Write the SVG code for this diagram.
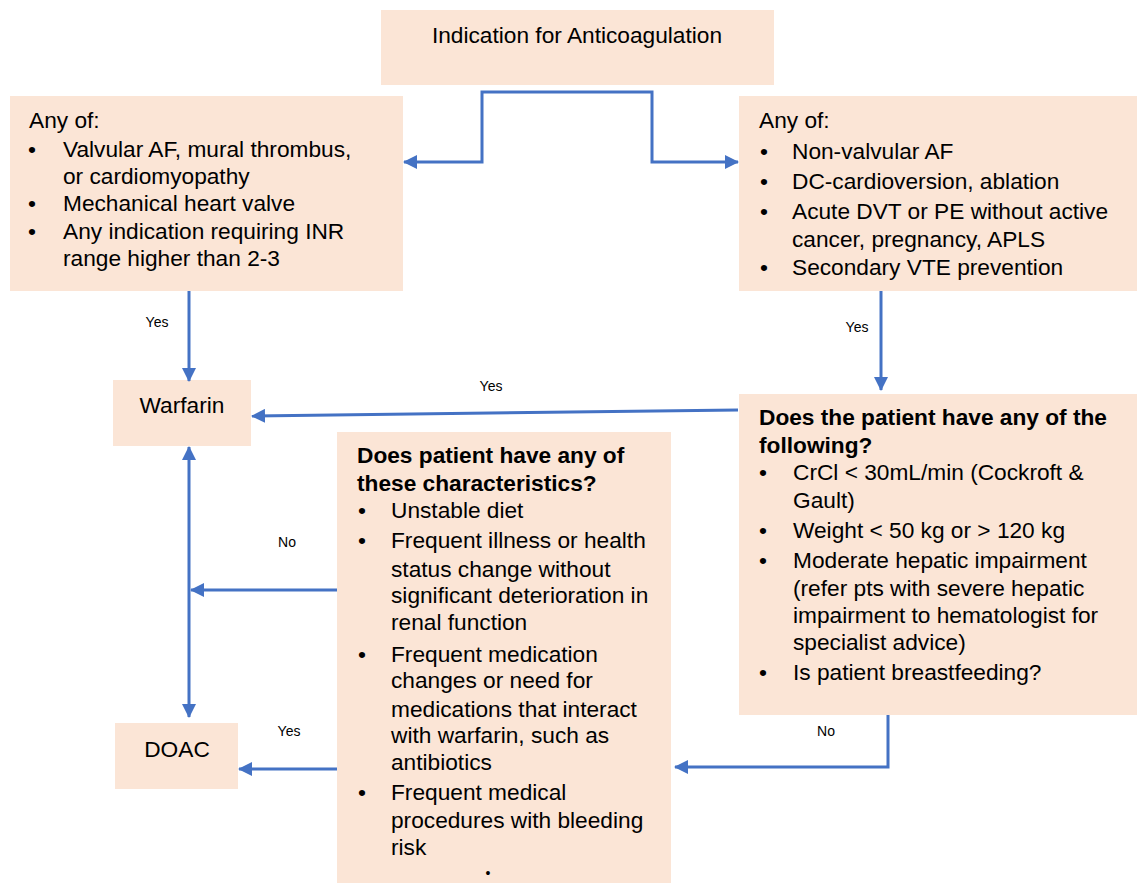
<svg xmlns="http://www.w3.org/2000/svg" width="1137" height="883" viewBox="0 0 1137 883">
<defs>
<style>
.box{fill:#FBE5D6;}
.t{font-family:"Liberation Sans",Arial,sans-serif;font-size:22.7px;fill:#000;}
.b{font-weight:bold;}
.lbl{font-family:"Liberation Sans",Arial,sans-serif;font-size:14px;fill:#000;}
.c{fill:none;stroke:#4472C4;stroke-width:3;}
</style>
<marker id="ah" markerUnits="userSpaceOnUse" markerWidth="14" markerHeight="14" viewBox="0 0 14 14" refX="13" refY="7" orient="auto-start-reverse">
<path d="M0,0 L14,7 L0,14 Z" fill="#4472C4"/>
</marker>
</defs>
<rect width="1137" height="883" fill="#fff"/>

<g id="n-top">
<rect class="box" x="381" y="10" width="393" height="75"/>
<text class="t" x="577" y="43" text-anchor="middle">Indication for Anticoagulation</text>
</g>

<g id="n-left">
<rect class="box" x="10" y="96" width="393" height="195"/>
<text class="t" x="29" y="128">Any of:</text>
<text class="t" x="28" y="157">•</text><text class="t" x="63" y="157">Valvular AF, mural thrombus,</text>
<text class="t" x="63" y="184">or cardiomyopathy</text>
<text class="t" x="28" y="211">•</text><text class="t" x="63" y="211">Mechanical heart valve</text>
<text class="t" x="28" y="239">•</text><text class="t" x="63" y="239">Any indication requiring INR</text>
<text class="t" x="63" y="266">range higher than 2-3</text>
</g>

<g id="n-right">
<rect class="box" x="739" y="96" width="398" height="195"/>
<text class="t" x="759" y="128">Any of:</text>
<text class="t" x="760" y="159">•</text><text class="t" x="792" y="159">Non-valvular AF</text>
<text class="t" x="760" y="189">•</text><text class="t" x="792" y="189">DC-cardioversion, ablation</text>
<text class="t" x="760" y="219">•</text><text class="t" x="792" y="219">Acute DVT or PE without active</text>
<text class="t" x="792" y="247">cancer, pregnancy, APLS</text>
<text class="t" x="760" y="275">•</text><text class="t" x="792" y="275">Secondary VTE prevention</text>
</g>

<g id="n-warfarin">
<rect class="box" x="113" y="380" width="138" height="66"/>
<text class="t" x="182" y="413" text-anchor="middle">Warfarin</text>
</g>

<g id="n-doac">
<rect class="box" x="115" y="723" width="123" height="66"/>
<text class="t" x="177" y="757" text-anchor="middle">DOAC</text>
</g>

<g id="n-q1">
<rect class="box" x="739" y="394" width="398" height="321"/>
<text class="t b" x="759" y="425">Does the patient have any of the</text>
<text class="t b" x="759" y="453">following?</text>
<text class="t" x="759" y="480">•</text><text class="t" x="793" y="480">CrCl &lt; 30mL/min (Cockroft &amp;</text>
<text class="t" x="793" y="508">Gault)</text>
<text class="t" x="759" y="538">•</text><text class="t" x="793" y="538">Weight &lt; 50 kg or &gt; 120 kg</text>
<text class="t" x="759" y="568">•</text><text class="t" x="793" y="568">Moderate hepatic impairment</text>
<text class="t" x="793" y="596">(refer pts with severe hepatic</text>
<text class="t" x="793" y="623">impairment to hematologist for</text>
<text class="t" x="793" y="650">specialist advice)</text>
<text class="t" x="759" y="680">•</text><text class="t" x="793" y="680">Is patient breastfeeding?</text>
</g>

<g id="n-q2">
<rect class="box" x="337" y="432" width="334" height="451"/>
<text class="t b" x="357" y="463">Does patient have any of</text>
<text class="t b" x="357" y="491">these characteristics?</text>
<text class="t" x="358" y="518">•</text><text class="t" x="391" y="518">Unstable diet</text>
<text class="t" x="358" y="548">•</text><text class="t" x="391" y="548">Frequent illness or health</text>
<text class="t" x="391" y="577">status change without</text>
<text class="t" x="391" y="603">significant deterioration in</text>
<text class="t" x="391" y="630">renal function</text>
<text class="t" x="358" y="662">•</text><text class="t" x="391" y="662">Frequent medication</text>
<text class="t" x="391" y="688">changes or need for</text>
<text class="t" x="391" y="717">medications that interact</text>
<text class="t" x="391" y="743">with warfarin, such as</text>
<text class="t" x="391" y="770">antibiotics</text>
<text class="t" x="358" y="800">•</text><text class="t" x="391" y="800">Frequent medical</text>
<text class="t" x="391" y="828">procedures with bleeding</text>
<text class="t" x="391" y="855">risk</text>
<text class="lbl" x="488" y="878" text-anchor="middle">•</text>
</g>

<g id="connectors">
<path class="c" d="M563,92 H482 V162 H404" marker-end="url(#ah)"/>
<path class="c" d="M563,92 H652 V162 H738" marker-end="url(#ah)"/>
<path class="c" d="M189,291 V381" marker-end="url(#ah)"/>
<path class="c" d="M881,291 V390" marker-end="url(#ah)"/>
<path class="c" d="M738,410 L252,416" marker-end="url(#ah)"/>
<path class="c" d="M189,447 V717" marker-start="url(#ah)" marker-end="url(#ah)"/>
<path class="c" d="M337,590 H191" marker-end="url(#ah)"/>
<path class="c" d="M337,769 H239" marker-end="url(#ah)"/>
<path class="c" d="M888,715 V767 H675" marker-end="url(#ah)"/>
<text class="lbl" x="157" y="327" text-anchor="middle">Yes</text>
<text class="lbl" x="857" y="332" text-anchor="middle">Yes</text>
<text class="lbl" x="491" y="391" text-anchor="middle">Yes</text>
<text class="lbl" x="287" y="547" text-anchor="middle">No</text>
<text class="lbl" x="289" y="736" text-anchor="middle">Yes</text>
<text class="lbl" x="826" y="736" text-anchor="middle">No</text>
</g>
</svg>
